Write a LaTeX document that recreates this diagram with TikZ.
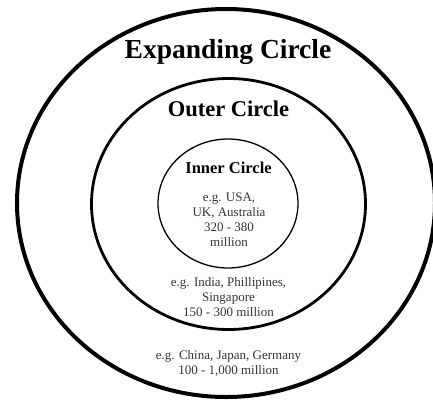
\documentclass[tikz,border=0pt]{standalone}
\usepackage{fontspec}
\setmainfont{Liberation Serif}
\usetikzlibrary{positioning,shapes.geometric}

\begin{document}
\begin{tikzpicture}[
      x=1pt, y=-1pt,
      ring/.style={draw, ellipse, inner sep=0pt, outer sep=0pt},
      headtext/.style={font=\bfseries\fontsize{#1}{#1}\selectfont, inner sep=0pt, anchor=base},
      infotext/.style={align=center, font=\fontsize{13}{14.7}\selectfont,
                       text=black!80, inner sep=0pt, anchor=base},
    ]
    \useasboundingbox (0,0) rectangle (433,400);
    % the three rings
    \node[ring, line width=4pt, minimum width=418pt, minimum height=388pt] (expanding) at (226,203) {};
    \node[ring, line width=2.8pt, minimum width=274pt, minimum height=251pt] (outer) at (228.5,204) {};
    \node[ring, line width=1.3pt, minimum width=140pt, minimum height=129pt] (inner) at (228,203.5) {};
    % names
    \node[headtext=27.5] (expandingname) at (228,58) {Expanding Circle};
    \node[headtext=22.5] (outername) at (228.5,116) {Outer Circle};
    \node[headtext=16.5] (innername) at (228.5,173) {Inner Circle};
    % examples (base = last line)
    \node[infotext] (innerinfo) at (229,246) {e.g. USA,\\UK, Australia\\320 - 380\\million};
    \node[infotext] (outerinfo) at (228.5,316) {e.g. India, Phillipines,\\Singapore\\150 - 300 million};
    \node[infotext] (expandinginfo) at (228.5,374) {e.g. China, Japan, Germany\\100 - 1,000 million};
  \end{tikzpicture}
\end{document}
